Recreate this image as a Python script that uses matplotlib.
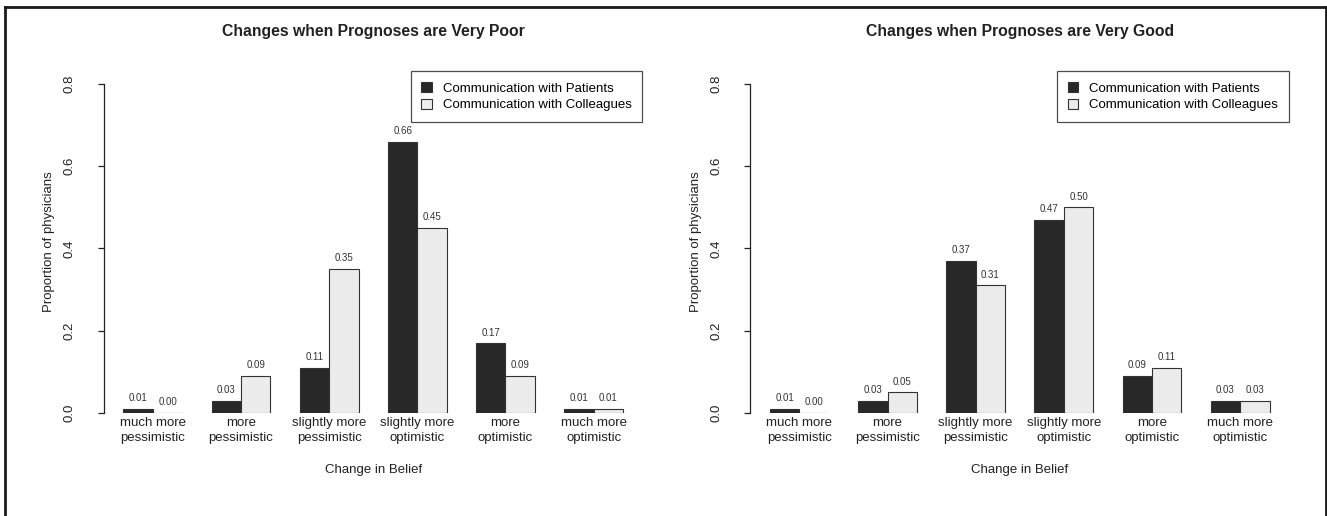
import numpy as np
import matplotlib
matplotlib.use("Agg")
import matplotlib.pyplot as plt
from matplotlib.lines import Line2D
from matplotlib.patches import Patch

plt.rcParams['font.family'] = ['Liberation Sans', 'DejaVu Sans']

categories = ["much more\npessimistic", "more\npessimistic", "slightly more\npessimistic",
              "slightly more\noptimistic", "more\noptimistic", "much more\noptimistic"]
series_names = ["Communication with Patients", "Communication with Colleagues"]

poor_patients = [0.01, 0.03, 0.11, 0.66, 0.17, 0.01]
poor_colleagues = [0.00, 0.09, 0.35, 0.45, 0.09, 0.01]
good_patients = [0.01, 0.03, 0.37, 0.47, 0.09, 0.03]
good_colleagues = [0.00, 0.05, 0.31, 0.50, 0.11, 0.03]

titles = ["Changes when Prognoses are Very Poor", "Changes when Prognoses are Very Good"]

W, H = 1327, 516
fig = plt.figure(figsize=(W / 100, H / 100), dpi=100)

dark, light, edge = "#282828", "#ececec", "#333333"

# outer frame (left, top, right)
for xs, ys in [([4.5, 4.5], [0, H - 7]), ([4.5, W - 1], [H - 7, H - 7]), ([W - 1, W - 1], [H - 7, 0])]:
    fig.add_artist(Line2D(np.array(xs) / W, np.array(ys) / H, transform=fig.transFigure,
                          color="#1a1a1a", lw=2))

ax_top, ax_bot = 70.8, 413.0
panels = [(103.5, poor_patients, poor_colleagues), (750.0, good_patients, good_colleagues)]

for i, (left_px, pat, col) in enumerate(panels):
    ax = fig.add_axes([left_px / W, (H - ax_bot) / H, 539.5 / W, (ax_bot - ax_top) / H])
    n = len(categories)
    x0 = 1 + 3 * np.arange(n)
    b1 = ax.bar(x0 + 0.5, pat, width=1, color=dark, edgecolor=edge, linewidth=0.8)
    b2 = ax.bar(x0 + 1.5, col, width=1, color=light, edgecolor=edge, linewidth=0.8)
    for bars, vals in [(b1, pat), (b2, col)]:
        for b, v in zip(bars, vals):
            ax.annotate(f"{v:.2f}", (b.get_x() + b.get_width() / 2, v),
                        xytext=(0, 4), textcoords="offset points",
                        ha="center", va="bottom", fontsize=7, color="#333333")

    ax.set_xlim(0.32, 18.68)
    ax.set_ylim(0, 0.832)
    for s in ["top", "right", "bottom"]:
        ax.spines[s].set_visible(False)
    ax.spines["left"].set_bounds(0, 0.8)
    ax.spines["left"].set_color("#222222")
    ax.spines["left"].set_linewidth(0.9)

    ax.set_yticks([0, 0.2, 0.4, 0.6, 0.8])
    ax.set_yticklabels(["0.0", "0.2", "0.4", "0.6", "0.8"], rotation=90, va="center")
    ax.tick_params(axis="y", length=4, width=0.9, pad=16, labelsize=9.5, colors="#222222")
    ax.set_xticks(x0 + 1)
    ax.set_xticklabels(categories, linespacing=1.3)
    ax.tick_params(axis="x", length=0, pad=3, labelsize=9.5, colors="#222222")

    ax.set_ylabel("Proportion of physicians", fontsize=9.5, color="#222222", va="center")
    ax.yaxis.set_label_coords(-54.5 / 539.5, 0.5)
    ax.set_xlabel("Change in Belief", fontsize=9.5, color="#222222", va="center")
    ax.xaxis.set_label_coords(0.5, -(470 - ax_bot) / (ax_bot - ax_top))

    ax.text(0.5, 1 + (ax_top - 31) / (ax_bot - ax_top), titles[i], transform=ax.transAxes,
            ha="center", va="center", fontsize=11.3, fontweight="bold", color="#222222")

    handles = [Patch(facecolor=dark, edgecolor=edge, lw=0.8),
               Patch(facecolor=light, edgecolor=edge, lw=0.8)]
    leg = ax.legend(handles, series_names, loc="upper right", fontsize=9.5, frameon=True,
                    fancybox=False, borderaxespad=0.05, borderpad=0.8, handlelength=0.8,
                    handleheight=0.8, handletextpad=0.85, labelspacing=0.3)
    leg.get_frame().set_edgecolor("#222222")
    leg.get_frame().set_linewidth(0.9)

fig.savefig("out.png", dpi=100)
